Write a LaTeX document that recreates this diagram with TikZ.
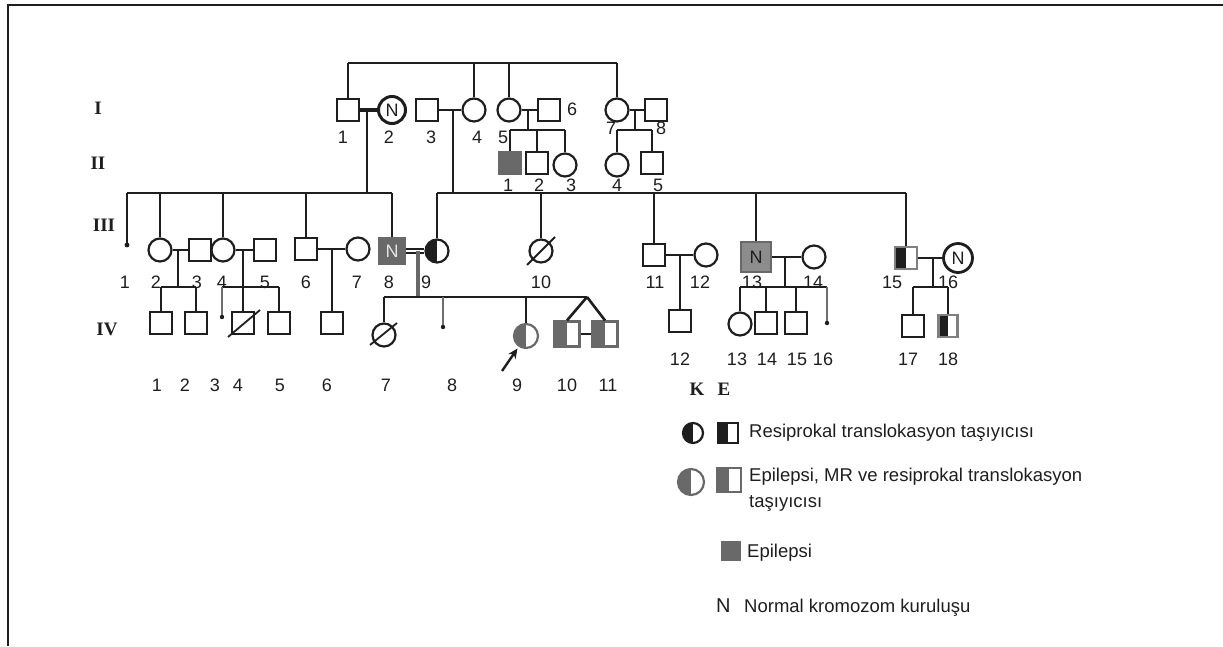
\documentclass[tikz,border=0pt]{standalone}
\usepackage{fontspec}
\setmainfont{Liberation Sans}
\newfontfamily\tnr{Liberation Serif}
\usetikzlibrary{arrows.meta}
\definecolor{lc}{RGB}{30,30,30}
\definecolor{gc}{RGB}{105,105,105}
\definecolor{gm}{RGB}{140,140,140}
\definecolor{thinc}{RGB}{110,110,110}
\begin{document}
\begin{tikzpicture}[x=1pt,y=-1pt,
  lnk/.style={draw=lc, line width=2.6pt},
  thinlnk/.style={draw=thinc, line width=1.1pt},
  ind/.style={draw=lc, line width=2.2pt, inner sep=0pt, fill=white, text=lc, font=\fontsize{18}{20}\selectfont},
  male/.style={ind, rectangle, minimum size=22pt},
  female/.style={ind, circle, minimum size=23pt},
  halfblk/.style={path picture={\fill[lc] (path picture bounding box.south west) rectangle (path picture bounding box.north);}},
  halfgry/.style={draw=gc, path picture={\fill[gc] (path picture bounding box.south west) rectangle (path picture bounding box.north);}},
  numlab/.style={font=\fontsize{18}{20}\selectfont, text=lc, inner sep=0pt},
  genlab/.style={font=\tnr\bfseries\fontsize{19}{21}\selectfont, text=lc, inner sep=0pt},
  legtxt/.style={font=\fontsize{18.5}{21}\selectfont, text=lc, inner sep=0pt, anchor=base west},
  slashln/.style={draw=lc, line width=1.8pt},
]
\useasboundingbox (0,0) rectangle (1223,646);
\draw[line width=2.2pt, draw=lc] (8,646) -- (8,5) -- (1223,5);

% generation labels
\node[genlab] (gI) at (98,108) {I};
\node[genlab] (gII) at (98,163) {II};
\node[genlab] (gIII) at (104,225) {III};
\node[genlab] (gIV) at (107,329) {IV};

% level coordinates
\coordinate (top) at (0,63);
\coordinate (sib2) at (0,130);
\coordinate (sib3) at (0,193);
\coordinate (sib4) at (0,287);
\coordinate (sib4b) at (0,297);

% ---------------- Generation I
\node[male] (I1) at (348,110) {};
\node[female, minimum size=27pt, line width=3pt] (I2) at (392,110) {N};
\node[male] (I3) at (427,110) {};
\node[female] (I4) at (474,110) {};
\node[female] (I5) at (509,110) {};
\node[male] (I6) at (549,110) {};
\node[female] (I7) at (617,110) {};
\node[male] (I8) at (656,110) {};

\draw[lnk] (I1 |- top) -- (I7 |- top);
\foreach \n in {I1,I4,I5,I7} \draw[lnk] (\n |- top) -- (\n);

\draw[lnk, line width=3.6pt] (I1) -- (I2);
\draw[lnk] (I3) -- (I4);
\draw[lnk] (I5) -- (I6);
\draw[lnk] (I7) -- (I8);

\coordinate (d12) at (367,110);
\coordinate (d34) at (453,110);
\coordinate (d56) at (528,110);
\coordinate (d78) at (635,110);

% ---------------- Generation II
\node[male, fill=gc, draw=gc] (II1) at (510,163) {};
\node[male] (II2) at (537,163) {};
\node[female] (II3) at (565,165) {};
\node[female] (II4) at (617,165) {};
\node[male] (II5) at (652,163) {};

\draw[lnk] (d56) -- (d56 |- sib2);
\draw[lnk] (II1 |- sib2) -- (II3 |- sib2);
\foreach \n in {II1,II2,II3} \draw[lnk] (\n |- sib2) -- (\n);
\draw[lnk] (d78) -- (d78 |- sib2);
\draw[lnk] (II4 |- sib2) -- (II5 |- sib2);
\foreach \n in {II4,II5} \draw[lnk] (\n |- sib2) -- (\n);

% ---------------- Generation III
\coordinate (III1) at (127,245);
\node[female] (III2) at (160,250) {};
\node[male] (III3) at (200,250) {};
\node[female] (III4) at (223,250) {};
\node[male] (III5) at (265,250) {};
\node[male] (III6) at (306,249) {};
\node[female] (III7) at (358,249) {};
\node[male, minimum size=25pt, fill=gc, draw=gc, text=white!80!gray] (III8) at (392,251) {N};
\node[female, halfblk] (III9) at (437,251) {};
\node[female] (III10) at (541,251) {};
\node[male] (III11) at (654,255) {};
\node[female] (III12) at (706,255) {};
\node[male, minimum size=30pt, fill=gm, draw=gc, line width=2.8pt] (III13) at (756,257) {N};
\node[female] (III14) at (814,257) {};
\node[male, halfblk, draw=gray] (III15) at (906,258) {};
\node[female, minimum size=29pt, line width=2.8pt] (III16) at (958,258) {N};

\draw[slashln] ([shift={(-14,14)}]III10.center) -- ([shift={(14,-14)}]III10.center);

% sibship of I1 x I2
\draw[lnk] (d12) -- (d12 |- sib3);
\draw[lnk] (III1 |- sib3) -- (III8 |- sib3);
\draw[lnk] (III1 |- sib3) -- (III1);
\fill[lc] (III1) circle (2.4);
\foreach \n in {III2,III4,III6,III8} \draw[lnk] (\n |- sib3) -- (\n);

% sibship of I3 x I4
\draw[lnk] (d34) -- (d34 |- sib3);
\draw[lnk] (III9 |- sib3) -- (III15 |- sib3);
\foreach \n in {III9,III10,III11,III13,III15} \draw[lnk] (\n |- sib3) -- (\n);

% marriages III
\draw[lnk] (III2) -- (III3);
\draw[lnk] (III4) -- (III5);
\draw[lnk] (III6) -- (III7);
\draw[draw=lc, line width=1.8pt, double=white, double distance=2.6pt] (III8) -- (III9);
\draw[lnk] (III11) -- (III12);
\draw[lnk] (III13) -- (III14);
\draw[lnk] (III15) -- (III16);

% ---------------- Generation IV
\node[male] (IV1) at (161,323) {};
\node[male] (IV2) at (196,323) {};
\coordinate (IV3) at (222,317);
\node[male] (IV4) at (243,323) {};
\node[male] (IV5) at (279,323) {};
\node[male] (IV6) at (332,323) {};
\node[female] (IV7) at (384,335) {};
\coordinate (IV8) at (443,327);
\node[female, halfgry, minimum size=24pt] (IV9) at (526,336) {};
\node[male, halfgry, minimum size=25pt] (IV10) at (567,334) {};
\node[male, halfgry, minimum size=25pt] (IV11) at (605,334) {};
\node[male] (IV12) at (680,321) {};
\node[female] (IV13) at (740,324) {};
\node[male] (IV14) at (766,323) {};
\node[male] (IV15) at (796,323) {};
\coordinate (IV16) at (827,323);
\node[male] (IV17) at (913,326) {};
\node[male, halfblk, draw=gray, minimum width=19pt, minimum height=22pt] (IV18) at (948,326) {};

\draw[slashln] ([shift={(-15,14)}]IV4.center) -- ([shift={(17,-13)}]IV4.center);
\draw[slashln] ([shift={(-14,10)}]IV7.center) -- ([shift={(13,-12)}]IV7.center);

% III2 x III3
\coordinate (d23) at (178,250);
\draw[lnk] (d23) -- (d23 |- sib4);
\draw[lnk] (IV1 |- sib4) -- (IV2 |- sib4);
\foreach \n in {IV1,IV2} \draw[lnk] (\n |- sib4) -- (\n);

% III4 x III5
\coordinate (d45) at (243,250);
\draw[lnk] (d45) -- (IV4);
\draw[lnk] (IV3 |- sib4) -- (IV5 |- sib4);
\draw[thinlnk] (IV3 |- sib4) -- (IV3);
\fill[lc] (IV3) circle (2.2);
\draw[lnk] (IV5 |- sib4) -- (IV5);

% III6 x III7
\coordinate (d67) at (332,249);
\draw[lnk] (d67) -- (IV6);

% III8 x III9
\coordinate (d89) at (418,251);
\coordinate (tw) at (587,297);
\draw[draw=gc, line width=3.2pt] (d89) -- (d89 |- sib4b);
\draw[lnk] (IV7 |- sib4b) -- (tw);
\draw[lnk] (IV7 |- sib4b) -- (IV7);
\draw[thinlnk] (IV8 |- sib4b) -- (IV8);
\fill[lc] (IV8) circle (2.2);
\draw[lnk] (IV9 |- sib4b) -- (IV9);
\draw[lnk] (tw) -- (IV10.north);
\draw[lnk] (tw) -- (IV11.north);
\draw[lnk] (IV10) -- (IV11);
\coordinate (arr) at (502,371);
\draw[draw=lc, line width=2.4pt, -{Stealth[length=10pt,width=9pt]}, shorten >=2pt] (arr) -- (IV9);

% III11 x III12
\coordinate (d1112) at (680,255);
\draw[lnk] (d1112) -- (IV12);

% III13 x III14
\coordinate (d1314) at (785,257);
\draw[lnk] (d1314) -- (d1314 |- sib4);
\draw[lnk] (IV13 |- sib4) -- (IV16 |- sib4);
\foreach \n in {IV13,IV14,IV15} \draw[lnk] (\n |- sib4) -- (\n);
\draw[thinlnk] (IV16 |- sib4) -- (IV16);
\fill[lc] (IV16) circle (2.2);

% III15 x III16
\coordinate (d1516) at (933,258);
\draw[lnk] (d1516) -- (d1516 |- sib4);
\draw[lnk] (IV17 |- sib4) -- (IV18 |- sib4);
\foreach \n in {IV17,IV18} \draw[lnk] (\n |- sib4) -- (\n);

% ---------------- number labels
\foreach \x/\i in {343/1,389/2,431/3,477/4,503/5}
  \node[numlab] (lI\i) at (\x,137) {\i};
\node[numlab] (lI6) at (572,109) {6};
\node[numlab] (lI7) at (611,128) {7};
\node[numlab] (lI8) at (661,128) {8};
\foreach \x/\i in {508/1,539/2,571/3,617/4,658/5}
  \node[numlab] (lII\i) at (\x,185) {\i};
\foreach \x/\i in {125/1,156/2,197/3,222/4,265/5,306/6,357/7,389/8,426/9,541/10,655/11,700/12,752/13,813/14,892/15,948/16}
  \node[numlab] (lIII\i) at (\x,282) {\i};
\foreach \x/\i in {157/1,185/2,215/3,238/4,280/5,327/6,386/7,452/8,517/9,567/10,608/11}
  \node[numlab] (lIV\i) at (\x,385) {\i};
\foreach \x/\i in {680/12,737/13,767/14,797/15,823/16,908/17,948/18}
  \node[numlab] (lIV\i) at (\x,359) {\i};

% ---------------- legend
\node[genlab] (legK) at (697,389) {K};
\node[genlab] (legE) at (724,389) {E};
\node[female, halfblk, minimum size=20pt] (lk1) at (693,433) {};
\node[male, halfblk, minimum size=20pt] (le1) at (728,433) {};
\node[legtxt] (t1) at (749,437) {Resiprokal translokasyon taşıyıcısı};
\node[female, halfgry, minimum size=26pt] (lk2) at (691,482) {};
\node[male, halfgry, minimum size=24pt] (le2) at (729,480) {};
\node[legtxt] (t2a) at (749,481) {Epilepsi, MR ve resiprokal translokasyon};
\node[legtxt] (t2b) at (749,507) {taşıyıcısı};
\node[male, fill=gc, draw=gc, minimum size=18pt] (le3) at (731,551) {};
\node[legtxt] (t3) at (747,557) {Epilepsi};
\node[legtxt, font=\fontsize{20}{22}\selectfont] (ln4) at (716,612) {N};
\node[legtxt] (t4) at (744,612) {Normal kromozom kuruluşu};
\end{tikzpicture}
\end{document}
